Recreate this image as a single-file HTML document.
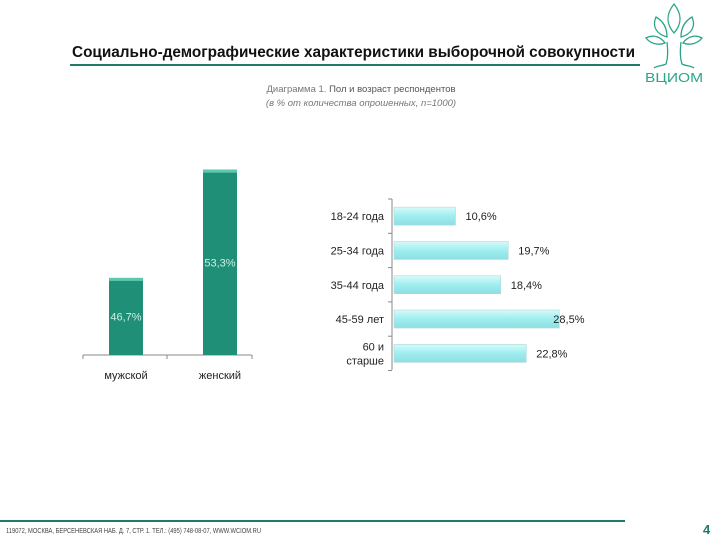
<!DOCTYPE html>
<html><head><meta charset="utf-8"><style>
body{margin:0;width:720px;height:540px;background:#fff;position:relative;overflow:hidden;font-family:"Liberation Sans",sans-serif}
svg{position:absolute;left:0;top:0}
</style></head><body>
<svg width="720" height="540">
<defs>
<linearGradient id="cy" x1="0" y1="0" x2="0" y2="1"><stop offset="0" stop-color="#d8fafa"/><stop offset="0.5" stop-color="#9eeef0"/><stop offset="1" stop-color="#8fdfe2"/></linearGradient>
<linearGradient id="tl" x1="0" y1="0" x2="1" y2="0"><stop offset="0" stop-color="#1f8a72"/><stop offset="0.5" stop-color="#23997f"/><stop offset="1" stop-color="#1f8a72"/></linearGradient>
</defs>
<text x="72" y="57" font-size="15.5" font-weight="bold" fill="#111" textLength="563" lengthAdjust="spacingAndGlyphs">Социально-демографические характеристики выборочной совокупности</text>
<rect x="70" y="64" width="570" height="2" fill="#1f7a68"/>
<g fill="none" stroke="#2aa58a" stroke-width="1.3">
<path d="M674 4 C666 14 666 24 674 33 C682 24 682 14 674 4Z"/>
<path d="M656 17 C652 26 656 34 667 37 C667 28 663 21 656 17Z"/>
<path d="M692 17 C696 26 692 34 681 37 C681 28 685 21 692 17Z"/>
<path d="M646 38 C653 34 661 37 665 43 C657 46 650 43 646 38Z"/>
<path d="M702 38 C695 34 687 37 683 43 C691 46 698 43 702 38Z"/>
<path d="M667 42 C668 52 668 58 666 64 C662 66 656 66 654 68"/>
<path d="M681 42 C680 52 680 58 682 64 C686 66 692 66 694 68"/>
<text x="674" y="82" font-size="13" fill="#2aa58a" stroke="none" text-anchor="middle" textLength="58" lengthAdjust="spacingAndGlyphs">ВЦИОМ</text>
</g>
<text x="361" y="92" font-size="9.5" fill="#777" text-anchor="middle">Диаграмма 1. <tspan fill="#555">Пол и возраст респондентов</tspan></text>
<text x="361" y="106" font-size="9.5" fill="#777" font-style="italic" text-anchor="middle">(в % от количества опрошенных, n=1000)</text>
<g id="left"></g>
<g id="right"></g>
<rect x="0" y="520" width="625" height="2" fill="#1f7a68"/>
<text x="6" y="533" font-size="7" fill="#444" textLength="255" lengthAdjust="spacingAndGlyphs">119072, МОСКВА, БЕРСЕНЕВСКАЯ НАБ. Д. 7, СТР. 1. ТЕЛ.: (495) 748-08-07, WWW.WCIOM.RU</text>
<text x="703" y="534" font-size="13" font-weight="bold" fill="#1f7a68">4</text>
</svg>
<script>
const genderCats=["мужской","женский"];
const genderVals=[46.7,53.3];
const genderLabels=["46,7%","53,3%"];
const ageCats=[["18-24 года"],["25-34 года"],["35-44 года"],["45-59 лет"],["60 и","старше"]];
const ageVals=[10.6,19.7,18.4,28.5,22.8];
const ageLabels=["10,6%","19,7%","18,4%","28,5%","22,8%"];
const NS="http://www.w3.org/2000/svg";
function mk(p,t,a){const e=document.createElementNS(NS,t);for(const k in a)e.setAttribute(k,a[k]);p.appendChild(e);return e;}
const L=document.getElementById('left');
const base=355,vmin=42,pxU=16.4;
const yG=v=>base-(v-vmin)*pxU;
const xG=i=>126+i*94;
let ax=mk(L,'line',{x1:83,y1:355,x2:252,y2:355,stroke:'#888','stroke-width':1});

[83,167,252].forEach(x=>mk(L,'line',{x1:x,y1:355,x2:x,y2:359,stroke:'#888'}));
genderVals.forEach((v,i)=>{
 const b=mk(L,'rect',{x:xG(i)-17,y:yG(v),width:34,height:base-yG(v),fill:'#1f8f77'});
 
 mk(L,'rect',{x:xG(i)-17,y:yG(v),width:34,height:3,fill:'#5cc9ad'});
 const t=mk(L,'text',{x:xG(i),y:(yG(v)+base)/2+4,'font-size':11,fill:'#cfeee6','text-anchor':'middle'});t.textContent=genderLabels[i];
 
 const c=mk(L,'text',{x:xG(i),y:379,'font-size':11,fill:'#222','text-anchor':'middle'});c.textContent=genderCats[i];
 
});
const R=document.getElementById('right');
const x0=394,pxA=5.8,rowH=34.3,y0=199;
const xA=v=>x0+v*pxA, yA=i=>y0+rowH*(i+0.5);
let ay=mk(R,'line',{x1:392,y1:199,x2:392,y2:370,stroke:'#888'});

for(let i=0;i<=5;i++)mk(R,'line',{x1:388,y1:y0+rowH*i,x2:392,y2:y0+rowH*i,stroke:'#888'});
ageVals.forEach((v,i)=>{
 const b=mk(R,'rect',{x:x0,y:yA(i)-9,width:xA(v)-x0,height:18,fill:'url(#cy)',stroke:'#b5d8da','stroke-width':0.6});
 
 const t=mk(R,'text',{x:xA(v)+10,y:yA(i)+4,'font-size':11,fill:'#222'});t.textContent=ageLabels[i];
 if(i===3)t.setAttribute('x',xA(v)-6);
 
 const lines=ageCats[i];
 lines.forEach((s,j)=>{const c=mk(R,'text',{x:384,y:yA(i)+4+(j-(lines.length-1)/2)*14,'font-size':11,fill:'#222','text-anchor':'end'});c.textContent=s;
 });
});
</script>
</body></html>
